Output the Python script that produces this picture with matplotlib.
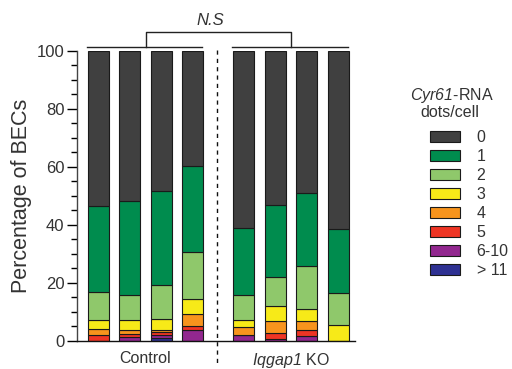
import matplotlib
matplotlib.use('Agg')
import matplotlib.pyplot as plt
import numpy as np
from matplotlib.patches import Patch

plt.rcParams['font.family'] = ['Liberation Sans', 'DejaVu Sans']
plt.rcParams['mathtext.fontset'] = 'custom'
plt.rcParams['mathtext.rm'] = 'Liberation Sans'
plt.rcParams['mathtext.sf'] = 'Liberation Sans:italic'

# dots/cell categories, bottom to top of each stack
categories = ['> 11', '6-10', '5', '4', '3', '2', '1', '0']
colors = ['#2e3192', '#92278f', '#ee3524', '#f7941d', '#f7ea18',
          '#8fc86b', '#008c4e', '#404040']

# percentages per bar (4 Control, 4 Iqgap1 KO), one list per category
gt11 = [0.0, 0.0, 1.0, 0.0, 0.0, 0.0, 0.0, 0.0]
c6_10 = [0.0, 1.5, 1.1, 3.8, 2.2, 0.6, 1.7, 0.0]
c5 = [2.0, 0.9, 0.9, 1.2, 0.0, 2.3, 2.1, 0.0]
c4 = [2.0, 1.3, 0.7, 4.2, 2.5, 4.0, 3.1, 0.0]
c3 = [3.3, 3.6, 3.9, 5.3, 2.4, 5.1, 4.0, 5.4]
c2 = [9.7, 8.5, 11.6, 16.2, 8.6, 10.2, 15.1, 11.3]
c1 = [29.5, 32.5, 32.4, 29.8, 23.4, 24.8, 25.2, 21.8]
c0 = [53.5, 51.7, 48.4, 39.5, 60.9, 53.0, 48.8, 61.5]

groups = ['Control', r'$\mathsf{Iqgap1}$ KO']

series = [gt11, c6_10, c5, c4, c3, c2, c1, c0]

fig = plt.figure(figsize=(5.12, 3.69), dpi=100)
ax = fig.add_axes([0.150, 0.0759, 0.543, 0.7859])

xpos = np.array([0, 1, 2, 3, 4.62, 5.62, 6.62, 7.62])
bottom = np.zeros(len(xpos))
for vals, col in zip(series, colors):
    ax.bar(xpos, vals, width=0.67, bottom=bottom, color=col,
           edgecolor='#1a1a1a', linewidth=0.8)
    bottom += np.array(vals)

ax.set_ylim(0, 100)
ax.set_xlim(-0.68, 8.14)
ax.set_yticks([0, 20, 40, 60, 80, 100])
ax.set_yticks(np.arange(0, 101, 5), minor=True)
ax.set_xticks([1.5, 6.12])
ax.set_xticklabels(groups, fontsize=11.5, color='#333333')
ax.tick_params(axis='x', length=0, pad=7)
ax.tick_params(axis='y', which='major', length=7, width=1, labelsize=12,
               labelcolor='#333333', pad=2)
ax.tick_params(axis='y', which='minor', length=4, width=1)
ax.set_ylabel('Percentage of BECs', fontsize=15.5, color='#333333', labelpad=3)
for s in ['top', 'right']:
    ax.spines[s].set_visible(False)
ax.spines['left'].set_color('#444444')
ax.spines['bottom'].set_color('#111111')
ax.spines['left'].set_linewidth(1)
ax.spines['bottom'].set_linewidth(1)

# group divider
ax.plot([3.76, 3.76], [100.3, -8.5], ls=(0, (3, 3)), color='#111111',
        lw=1, clip_on=False)

# significance brackets
ax.plot([-0.37, 3.29], [101.4, 101.4], color='#222222', lw=1, clip_on=False)
ax.plot([4.24, 7.92], [101.4, 101.4], color='#222222', lw=1, clip_on=False)
ax.plot([1.51, 1.51, 6.11, 6.11], [101.4, 106.6, 106.6, 101.4],
        color='#222222', lw=1, clip_on=False)
ax.text(3.55, 108, 'N.S', style='italic', fontsize=12, color='#333333',
        ha='center', va='bottom')

handles = [Patch(facecolor=c, edgecolor='#1a1a1a', linewidth=0.8)
           for c in colors][::-1]
leg = fig.legend(handles, categories[::-1], loc='upper left',
                 bbox_to_anchor=(0.811, 0.687), frameon=False, fontsize=11.5,
                 handlelength=1.9, handleheight=0.65, labelspacing=0.25,
                 handletextpad=1.05)
for t in leg.get_texts():
    t.set_color('#333333')

fig.text(0.883, 0.742, '$\\mathsf{Cyr61}$-RNA', fontsize=11.5,
         color='#333333', ha='center', va='center')
fig.text(0.879, 0.694, 'dots/cell', fontsize=11.5,
         color='#333333', ha='center', va='center')

fig.savefig('out.png', dpi=100)
